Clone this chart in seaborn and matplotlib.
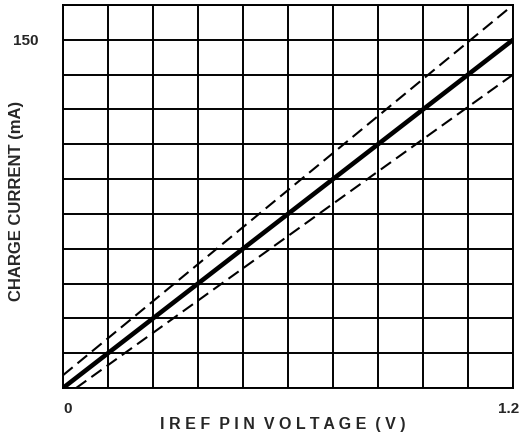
import numpy as np
import matplotlib
matplotlib.use('Agg')
import matplotlib.pyplot as plt
import matplotlib.transforms as mtransforms
import seaborn as sns
import pandas as pd

voltage = [0.0, 1.2]
typical = [0.0, 150.0]
upper_v = [0.0, 1.2]
upper_i = [5.5, 165.0]
lower_v = [0.035, 1.2]
lower_i = [0.0, 135.0]

x_ticks = np.round(np.arange(0, 1.21, 0.12), 2)
y_ticks = np.arange(0, 166, 15)

sns.set_style('white')
plt.rcParams['font.family'] = ['Liberation Sans', 'DejaVu Sans']
plt.rcParams['font.weight'] = 'bold'

fig = plt.figure(figsize=(5.22, 4.36), dpi=100)
ax = fig.add_axes([63 / 522, 48 / 436, 450 / 522, 383 / 436])

df_typ = pd.DataFrame({'v': voltage, 'i': typical})
df_up = pd.DataFrame({'v': upper_v, 'i': upper_i})
df_lo = pd.DataFrame({'v': lower_v, 'i': lower_i})

sns.lineplot(data=df_typ, x='v', y='i', ax=ax, color='black', lw=3.3, zorder=5)
sns.lineplot(data=df_up, x='v', y='i', ax=ax, color='black', lw=1.5,
             zorder=5).lines[-1].set_dashes([6, 3])
sns.lineplot(data=df_lo, x='v', y='i', ax=ax, color='black', lw=1.5,
             zorder=5).lines[-1].set_dashes([6, 3])

ax.set_xlim(0, 1.2)
ax.set_ylim(0, 165)

ax.set_xticks(x_ticks)
ax.set_xticklabels(['0'] + [''] * (len(x_ticks) - 2) + ['1.2'])
ax.set_yticks(y_ticks)
ax.set_yticklabels(['150' if t == 150 else '' for t in y_ticks])
ax.tick_params(axis='both', length=0, labelsize=11)
ax.tick_params(axis='x', pad=10)
ax.tick_params(axis='y', pad=18)
xl = ax.get_xticklabels()
xl[0].set_horizontalalignment('left')
xl[-1].set_horizontalalignment('right')
xl[-1].set_transform(xl[-1].get_transform() +
                     mtransforms.ScaledTranslation(0.06, 0, fig.dpi_scale_trans))

ax.grid(True, color='black', lw=1.4)
for s in ax.spines.values():
    s.set_color('black')
    s.set_linewidth(1.4)

ax.set_xlabel('')
ax.set_ylabel('')
fig.text(283 / 522, 1 - 424 / 436, 'I R E F  P I N  V O L T A G E  ( V )',
         ha='center', va='center', fontsize=11.5, fontweight='bold')
fig.text(17 / 522, 1 - 201 / 436, 'CHARGE CURRENT (mA)', rotation=90,
         ha='center', va='center', fontsize=12, fontweight='bold')

fig.savefig('out.png', dpi=100)
